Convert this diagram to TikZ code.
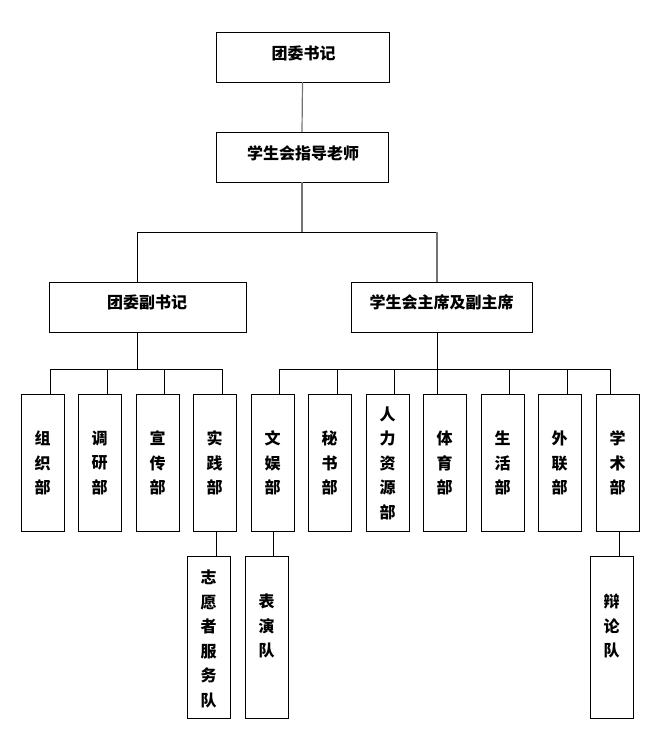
\documentclass[tikz,border=0pt]{standalone}
\usepackage{fontspec}
\setmainfont{Noto Sans CJK SC}
\begin{document}
\begin{tikzpicture}[x=1pt,y=-1pt,
  bx/.style={draw=black,line width=0.9pt,rectangle,inner sep=0pt,outer sep=0pt,fill=white},
  txt/.style={inner sep=0pt,align=center,font=\fontsize{16}{24.5}\selectfont\bfseries},
  ln/.style={draw=black,line width=0.9pt},
  gl/.style={draw=black!55,line width=1.2pt}]
\useasboundingbox (0,0) rectangle (650,733);
\newcommand\mkbox[5]{\node[bx,minimum width={(#3-#2)*1pt},minimum height={(#5-#4)*1pt}] (#1) at ({(#2+#3)/2},{(#4+#5)/2}) {};}
% boxes
\mkbox{top}{216}{389}{32}{82}
\mkbox{adv}{216}{388}{132}{182}
\mkbox{fu}{49}{246}{282}{332}
\mkbox{zhu}{351}{532}{282}{332}
\mkbox{zz}{21}{64}{394}{531}
\mkbox{dy}{78}{121}{394}{531}
\mkbox{xc}{136}{179}{394}{531}
\mkbox{sj}{193}{236}{394}{531}
\mkbox{wy}{251}{294}{394}{531}
\mkbox{ms}{308}{351}{394}{531}
\mkbox{rl}{366}{409}{394}{531}
\mkbox{ty}{423}{466}{394}{531}
\mkbox{sh}{481}{524}{394}{531}
\mkbox{wl}{538}{581}{394}{531}
\mkbox{xs}{596}{639}{394}{531}
\mkbox{zy}{187}{230}{556}{718}
\mkbox{by}{245}{288}{556}{718}
\mkbox{bl}{590}{633}{556}{718}
% texts
\node[txt] (t-top) at (303.5,53) {团委书记};
\node[txt] (t-adv) at (303,153) {学生会指导老师};
\node[txt] (t-fu) at (147,302) {团委副书记};
\node[txt] (t-zhu) at (441.5,302) {学生会主席及副主席};
\node[txt] (t-zz) at (42.5,463) {组\\织\\部};
\node[txt] (t-dy) at (99.5,463) {调\\研\\部};
\node[txt] (t-xc) at (157.5,463) {宣\\传\\部};
\node[txt] (t-sj) at (214.5,463) {实\\践\\部};
\node[txt] (t-wy) at (272.5,463) {文\\娱\\部};
\node[txt] (t-ms) at (329.5,463) {秘\\书\\部};
\node[txt] (t-rl) at (387.5,463) {人\\力\\资\\源\\部};
\node[txt] (t-ty) at (444.5,463) {体\\育\\部};
\node[txt] (t-sh) at (502.5,463) {生\\活\\部};
\node[txt] (t-wl) at (559.5,463) {外\\联\\部};
\node[txt] (t-xs) at (617.5,463) {学\\术\\部};
\node[txt] (t-zy) at (208.5,639) {志\\愿\\者\\服\\务\\队};
\node[txt] (t-by) at (266.5,626) {表\\演\\队};
\node[txt] (t-bl) at (611.5,626) {辩\\论\\队};
% junction coordinates
\coordinate (jL) at (137,232);
\coordinate (jR) at (437,232);
\coordinate (bL) at (137,369);
\coordinate (bR) at (437,369);
\coordinate (d1) at (50,369);
\coordinate (d2) at (107,369);
\coordinate (d3) at (164,369);
\coordinate (d4) at (222,369);
\coordinate (e1) at (279,369);
\coordinate (e2) at (337,369);
\coordinate (e3) at (394,369);
\coordinate (e4) at (437,369);
\coordinate (e5) at (509,369);
\coordinate (e6) at (567,369);
\coordinate (e7) at (610,369);
\coordinate (s1) at (216,531);
\coordinate (s2) at (273,531);
\coordinate (s3) at (619,531);
% connectors
\draw[gl] (top.south) -- (adv.north);
\draw[gl] (adv.south) -- (adv.south |- jL);
\draw[ln] (jL) -- (jR);
\draw[ln] (jL) -- (jL |- fu.north);
\draw[gl] (jR) -- (jR |- zhu.north);
\draw[ln] (jL |- fu.south) -- (bL);
\draw[ln] (d1) -- (d4);
\foreach \d/\b in {d1/zz,d2/dy,d3/xc,d4/sj}{\draw[ln] (\d) -- (\d |- \b.north);}
\draw[ln] (jR |- zhu.south) -- (bR);
\draw[ln] (e1) -- (e7);
\foreach \d/\b in {e1/wy,e2/ms,e3/rl,e4/ty,e5/sh,e6/wl,e7/xs}{\draw[ln] (\d) -- (\d |- \b.north);}
\draw[ln] (s1) -- (s1 |- zy.north);
\draw[ln] (s2) -- (s2 |- by.north);
\draw[ln] (s3) -- (s3 |- bl.north);
\end{tikzpicture}
\end{document}
